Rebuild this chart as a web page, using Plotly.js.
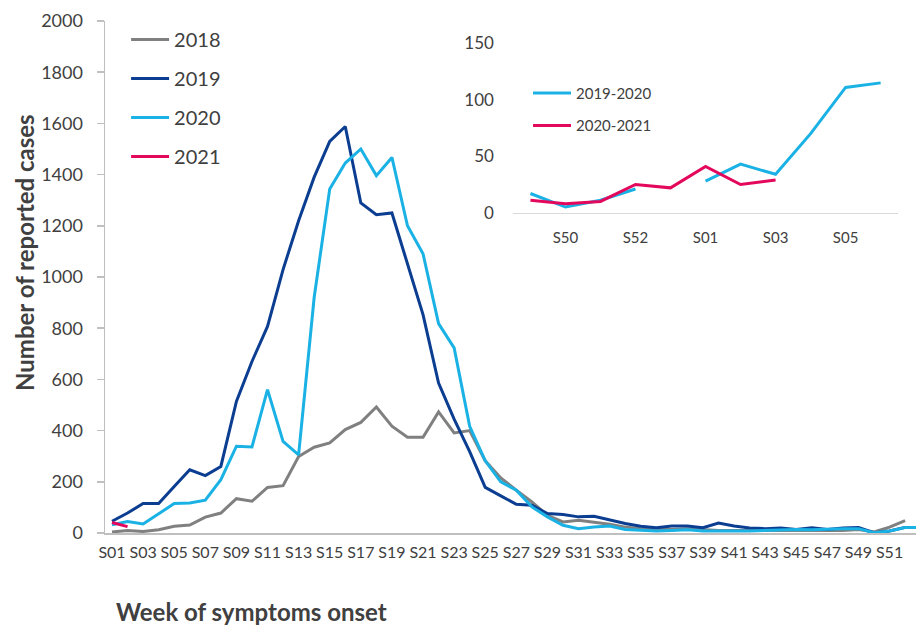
<!DOCTYPE html>
<html>
<head>
<meta charset="utf-8">
<script src="https://cdn.plot.ly/plotly-3.0.1.min.js"></script>
<style>html,body{margin:0;padding:0;background:#fff;}#chart{width:916px;height:627px;}</style>
</head>
<body>
<div id="chart"></div>
<script>
// Main chart data: weekly reported cases by week of symptom onset
const weeks = ["S01","S02","S03","S04","S05","S06","S07","S08","S09","S10","S11","S12","S13","S14","S15","S16","S17","S18","S19","S20","S21","S22","S23","S24","S25","S26","S27","S28","S29","S30","S31","S32","S33","S34","S35","S36","S37","S38","S39","S40","S41","S42","S43","S44","S45","S46","S47","S48","S49","S50","S51","S52","S53"];
const weekTicks = ["S01","S03","S05","S07","S09","S11","S13","S15","S17","S19","S21","S23","S25","S27","S29","S31","S33","S35","S37","S39","S41","S43","S45","S47","S49","S51"];

const cases2018 = [4,10,6,13,26,31,62,78,134,124,178,185,299,335,352,404,432,492,417,374,374,473,391,400,282,215,167,121,69,43,50,43,34,23,17,14,14,17,14,10,10,10,10,10,10,8,8,10,14,4,23,48];
const cases2019 = [46,78,115,115,182,247,224,260,514,670,807,1029,1220,1390,1530,1588,1289,1243,1250,1055,853,586,445,318,178,145,112,108,76,72,63,65,50,37,26,21,27,27,21,39,27,20,17,20,14,20,14,20,21,1,8,22];
const cases2020 = [32,45,35,74,115,117,128,208,339,336,560,358,305,920,1344,1445,1500,1396,1467,1200,1091,818,723,417,282,200,167,102,63,30,17,23,27,14,10,8,10,13,8,7,8,8,10,10,14,13,16,17,17,1,8,21,22];
const cases2021 = [41,25];

// Inset data: season view around the turn of the year
const insetWeeks = ["S49","S50","S51","S52","S53","S01","S02","S03","S04","S05","S06"];
const insetTicks = ["S50","S52","S01","S03","S05"];
const season1920 = [17,5,11,21,null,28,43,34,70,111,115];
const season2021 = [11,8,10,25,22,41,25,29,null,null,null];

const FONT = "Lato, 'Open Sans', sans-serif";
const TXT = "#404040";
const C2018 = "#808080", C2019 = "#0b3d91", C2020 = "#1ab2e5", C2021 = "#e4085d";

function mainTrace(y, name, color) {
  return {x: weeks.slice(0, y.length), y: y, name: name, type: "scatter", mode: "lines",
    line: {color: color, width: 3}, legendgroup: name, xaxis: "x", yaxis: "y", legend: "legend",
    hoverinfo: "skip"};
}
function insetTrace(y, name, color) {
  return {x: insetWeeks, y: y, name: name, type: "scatter", mode: "lines",
    line: {color: color, width: 3}, legendgroup: name, xaxis: "x2", yaxis: "y2", legend: "legend2",
    connectgaps: false, hoverinfo: "skip"};
}

const data = [
  mainTrace(cases2018, "2018", C2018),
  mainTrace(cases2019, "2019", C2019),
  mainTrace(cases2020, "2020", C2020),
  mainTrace(cases2021, "2021", C2021),
  insetTrace(season1920, "2019-2020", C2020),
  insetTrace(season2021, "2020-2021", C2021)
];

const layout = {
  width: 916, height: 627,
  margin: {l: 105, r: 0, t: 21, b: 94},
  paper_bgcolor: "#ffffff", plot_bgcolor: "#ffffff",
  font: {family: FONT, color: TXT},
  showlegend: true,
  xaxis: {
    type: "category", categoryorder: "array", categoryarray: weeks,
    range: [-0.45, 51.7], tickmode: "array", tickvals: weekTicks, ticktext: weekTicks,
    showline: true, linecolor: "#bfbfbf", linewidth: 1.5, ticks: "",
    ticklabelstandoff: 4,
    showgrid: false, zeroline: false, tickangle: 0,
    tickfont: {family: FONT, size: 16, color: TXT}, fixedrange: true
  },
  yaxis: {
    range: [0, 2000], dtick: 200, tick0: 0,
    showline: true, linecolor: "#bfbfbf", linewidth: 1.5,
    ticks: "outside", ticklen: 7, tickcolor: "#bfbfbf", tickwidth: 1.5,
    ticklabelstandoff: 10,
    showgrid: false, zeroline: false,
    tickfont: {family: FONT, size: 18, color: TXT}, fixedrange: true
  },
  xaxis2: {
    domain: [0.503, 0.978], anchor: "y2",
    type: "category", categoryorder: "array", categoryarray: insetWeeks,
    range: [-0.5, 10.5], tickmode: "array", tickvals: insetTicks, ticktext: insetTicks,
    showline: true, linecolor: "#d9d9d9", linewidth: 1.5, ticks: "",
    ticklabelstandoff: 11,
    showgrid: false, zeroline: false, tickangle: 0,
    tickfont: {family: FONT, size: 15, color: TXT}, fixedrange: true
  },
  yaxis2: {
    domain: [0.6256, 0.9563], anchor: "x2",
    range: [0, 150], dtick: 50, tick0: 0,
    showline: false, ticks: "", showgrid: false, zeroline: false,
    ticklabelstandoff: 18,
    tickfont: {family: FONT, size: 17, color: TXT}, fixedrange: true
  },
  legend: {
    x: 0.026, y: 1.002, xanchor: "left", yanchor: "top",
    bgcolor: "rgba(0,0,0,0)", borderwidth: 0,
    font: {family: FONT, size: 20, color: TXT},
    tracegroupgap: 10, itemwidth: 38, traceorder: "grouped"
  },
  legend2: {
    x: 0.5216, y: 0.891, xanchor: "left", yanchor: "top",
    bgcolor: "rgba(0,0,0,0)", borderwidth: 0,
    font: {family: FONT, size: 15, color: TXT},
    tracegroupgap: 10, itemwidth: 38, traceorder: "grouped"
  },
  annotations: [
    {text: "<b>Number of reported cases</b>", xref: "paper", yref: "paper",
     x: -0.0986, y: 0.547, xanchor: "center", yanchor: "middle", textangle: -90,
     showarrow: false, font: {family: FONT, size: 24, color: TXT}},
    {text: "<b>Week of symptoms onset</b>", xref: "paper", yref: "paper",
     x: 0.0111, y: -0.153, xanchor: "left", yanchor: "middle",
     showarrow: false, font: {family: FONT, size: 24, color: TXT}}
  ]
};

Plotly.newPlot("chart", data, layout, {staticPlot: true, displayModeBar: false});
</script>
</body>
</html>
